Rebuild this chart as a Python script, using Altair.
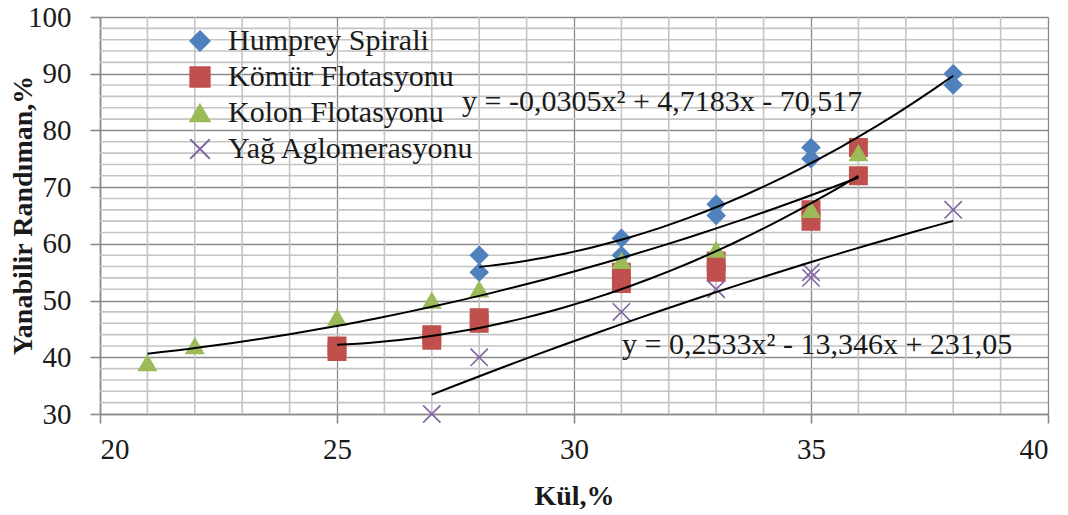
import altair as alt
import pandas as pd

# ---- data ----
series_names = ["Humprey Spirali", "Kömür Flotasyonu", "Kolon Flotasyonu", "Yağ Aglomerasyonu"]
series_colors = ["#4F81BD", "#C0504D", "#9BBB59", "#8064A2"]
series_shapes = ["M0,-1L1,0L0,1L-1,0Z", "square", "M0,-0.86L1,0.86L-1,0.86Z", "M-1,-1L1,1M1,-1L-1,1"]

hum_x = [28, 28, 31, 31, 33, 33, 35, 35, 38, 38]
hum_y = [58, 55, 61, 58, 67, 65, 77, 75, 90, 88]

kom_x = [25, 25, 27, 27, 28, 28, 31, 31, 33, 33, 35, 35, 36, 36]
kom_y = [41, 42, 43, 44, 46, 47, 53, 55, 55, 57, 64, 66, 77, 72]

kol_x = [21, 22, 25, 27, 28, 31, 33, 35, 36]
kol_y = [39, 42, 47, 50, 52, 57, 59, 66, 76]

yag_x = [27, 28, 31, 33, 35, 35, 38]
yag_y = [30, 40, 48, 52, 55, 54, 66]

x_major = [20, 25, 30, 35, 40]
y_major = [30, 40, 50, 60, 70, 80, 90, 100]
x_minor = [v for v in range(20, 41) if v % 5 != 0]
y_minor = [v for v in range(30, 101, 2) if v % 10 != 0]

eq_upper = "y = -0,0305x² + 4,7183x - 70,517"
eq_lower = "y = 0,2533x² - 13,346x + 231,05"

x_title = "Kül,%"
y_title = "Yanabilir Randıman,%"

# ---- build table ----
rows = []
for name, xs, ys in zip(series_names, [hum_x, kom_x, kol_x, yag_x], [hum_y, kom_y, kol_y, yag_y]):
    for a, b in zip(xs, ys):
        rows.append({"series": name, "x": a, "y": b})
df = pd.DataFrame(rows)

FONT = "Liberation Serif"
W, H = 948, 397

xscale = alt.Scale(domain=[20, 40], nice=False, zero=False)
yscale = alt.Scale(domain=[30, 100], nice=False, zero=False)

x_axis = alt.Axis(
    values=x_major, title=x_title, grid=True, gridColor="#8A8A8A", gridWidth=1.3,
    domainColor="#8A8A8A", domainWidth=1.6, tickColor="#8A8A8A", tickSize=9, tickWidth=1.6,
    labelFont=FONT, labelFontSize=29, labelColor="#1a1a1a", labelPadding=12,
    titleFont=FONT, titleFontSize=28, titleFontWeight="bold", titleColor="#1a1a1a",
    titlePadding=18,
)
y_axis = alt.Axis(
    values=y_major, title=y_title, grid=True, gridColor="#8A8A8A", gridWidth=1.3,
    domainColor="#8A8A8A", domainWidth=1.6, tickColor="#8A8A8A", tickSize=10, tickWidth=1.6,
    labelFont=FONT, labelFontSize=29, labelColor="#1a1a1a", labelPadding=19,
    titleFont=FONT, titleFontSize=28, titleFontWeight="bold", titleColor="#1a1a1a",
    titleX=-77, titleY=198, titleAngle=270, titleAlign="center", titleBaseline="middle",
)

minor_x = alt.Chart(pd.DataFrame({"x": x_minor})).mark_rule(
    color="#C4C4C4", strokeWidth=1.6
).encode(x=alt.X("x:Q", scale=xscale, axis=x_axis))

minor_y = alt.Chart(pd.DataFrame({"y": y_minor})).mark_rule(
    color="#C4C4C4", strokeWidth=1.6
).encode(y=alt.Y("y:Q", scale=yscale, axis=y_axis))

color_scale = alt.Scale(domain=series_names, range=series_colors)
shape_scale = alt.Scale(domain=series_names, range=series_shapes)
legend = alt.Legend(
    title=None, orient="none", legendX=85, legendY=9, padding=0,
    labelFont=FONT, labelFontSize=30, labelColor="#1a1a1a", labelOffset=13,
    symbolSize=380, symbolStrokeWidth=1.8, rowPadding=6, labelLimit=500,
)

points = alt.Chart(df).mark_point(
    filled=False, size=300, strokeWidth=1.6, opacity=1
).encode(
    x=alt.X("x:Q", scale=xscale, axis=x_axis),
    y=alt.Y("y:Q", scale=yscale, axis=y_axis),
    fill=alt.Fill("series:N", scale=color_scale, legend=legend),
    stroke=alt.Stroke("series:N", scale=color_scale, legend=legend),
    shape=alt.Shape("series:N", scale=shape_scale, legend=legend),
)

trend = alt.Chart(df).transform_regression(
    "x", "y", method="poly", order=2, groupby=["series"]
).mark_line(color="black", strokeWidth=2).encode(
    x=alt.X("x:Q", scale=xscale, axis=x_axis),
    y=alt.Y("y:Q", scale=yscale, axis=y_axis),
    detail="series:N",
)

text_upper = alt.Chart(pd.DataFrame({"t": [eq_upper]})).mark_text(
    font=FONT, fontSize=30, align="left", baseline="alphabetic", color="#1a1a1a"
).encode(text="t:N", x=alt.value(362), y=alt.value(94))

text_lower = alt.Chart(pd.DataFrame({"t": [eq_lower]})).mark_text(
    font=FONT, fontSize=30, align="left", baseline="alphabetic", color="#1a1a1a"
).encode(text="t:N", x=alt.value(522), y=alt.value(337))

chart = alt.layer(minor_x, minor_y, points, trend, text_upper, text_lower).properties(
    width=W, height=H,
    autosize=alt.AutoSizeParams(type="none"),
    padding={"left": 100, "top": 17, "right": 20, "bottom": 101},
    background="white",
).configure_view(stroke=None).configure_axis(
    labelFont=FONT, titleFont=FONT
).configure_legend(labelFont=FONT)

chart.save("out.html", embed_options={"renderer": "svg", "actions": False})
